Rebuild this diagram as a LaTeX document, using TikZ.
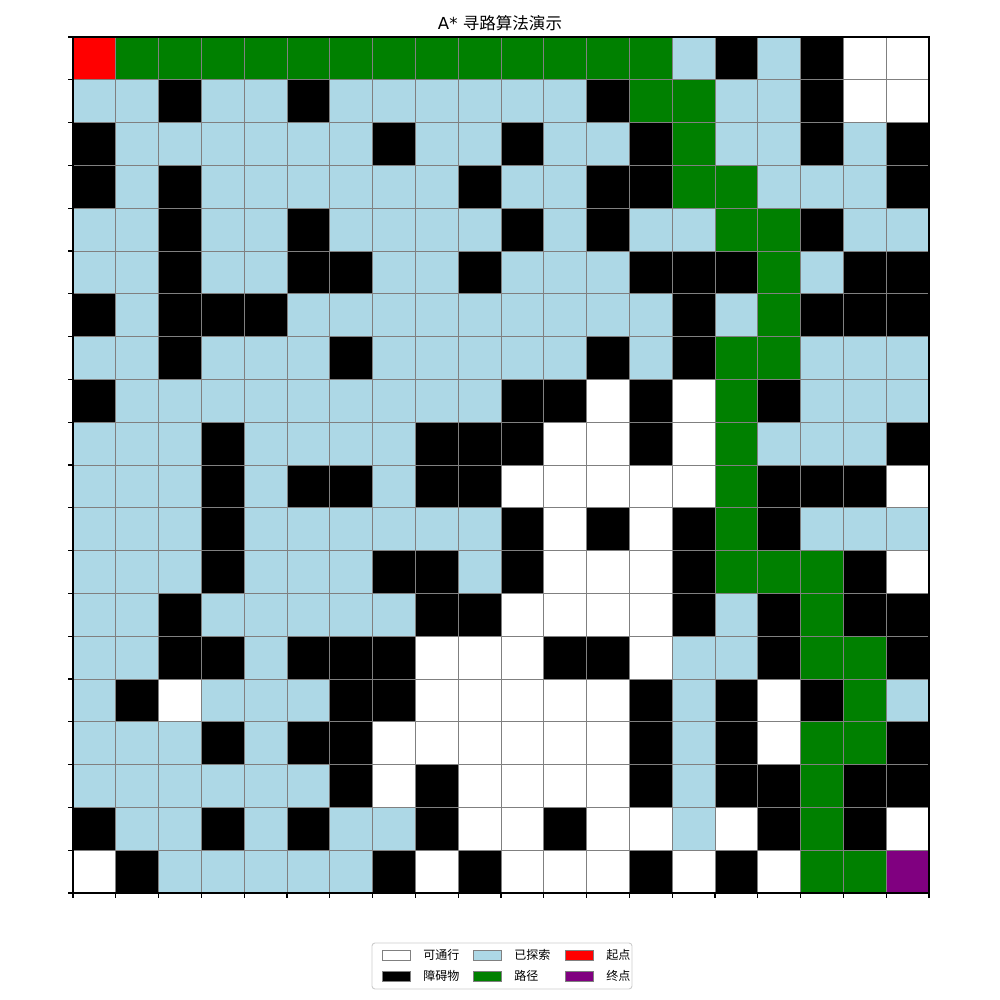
\documentclass[tikz,border=0pt]{standalone}
\usepackage{fontspec}
\setmainfont{DejaVu Sans}
\newfontfamily\cjk{Noto Sans CJK SC}
\usetikzlibrary{positioning}

\definecolor{cellW}{HTML}{FFFFFF}
\definecolor{cellB}{HTML}{000000}
\definecolor{cellL}{HTML}{ADD8E6}
\definecolor{cellG}{HTML}{008000}
\definecolor{cellR}{HTML}{FF0000}
\definecolor{cellP}{HTML}{800080}

\begin{document}
\begin{tikzpicture}[line width=0.6pt,
    patch/.style={draw=gray, minimum width=0.65cm, minimum height=0.234cm, inner sep=0pt},
    lbl/.style={font=\cjk\fontsize{8}{10}\selectfont, anchor=west, inner sep=0pt}]
        \useasboundingbox (-1.7056,-2.5) rectangle (21.659,20.8645);

        % Grid cells, top row first
        \foreach \line [count=\r from 0] in {
            {R,G,G,G,G,G,G,G,G,G,G,G,G,G,L,B,L,B,W,W},
            {L,L,B,L,L,B,L,L,L,L,L,L,B,G,G,L,L,B,W,W},
            {B,L,L,L,L,L,L,B,L,L,B,L,L,B,G,L,L,B,L,B},
            {B,L,B,L,L,L,L,L,L,B,L,L,B,B,G,G,L,L,L,B},
            {L,L,B,L,L,B,L,L,L,L,B,L,B,L,L,G,G,B,L,L},
            {L,L,B,L,L,B,B,L,L,B,L,L,L,B,B,B,G,L,B,B},
            {B,L,B,B,B,L,L,L,L,L,L,L,L,L,B,L,G,B,B,B},
            {L,L,B,L,L,L,B,L,L,L,L,L,B,L,B,G,G,L,L,L},
            {B,L,L,L,L,L,L,L,L,L,B,B,W,B,W,G,B,L,L,L},
            {L,L,L,B,L,L,L,L,B,B,B,W,W,B,W,G,L,L,L,B},
            {L,L,L,B,L,B,B,L,B,B,W,W,W,W,W,G,B,B,B,W},
            {L,L,L,B,L,L,L,L,L,L,B,W,B,W,B,G,B,L,L,L},
            {L,L,L,B,L,L,L,B,B,L,B,W,W,W,B,G,G,G,B,W},
            {L,L,B,L,L,L,L,L,B,B,W,W,W,W,B,L,B,G,B,B},
            {L,L,B,B,L,B,B,B,W,W,W,B,B,W,L,L,B,G,G,B},
            {L,B,W,L,L,L,B,B,W,W,W,W,W,B,L,B,W,B,G,L},
            {L,L,L,B,L,B,B,W,W,W,W,W,W,B,L,B,W,G,G,B},
            {L,L,L,L,L,L,B,W,B,W,W,W,W,B,L,B,B,G,B,B},
            {B,L,L,B,L,B,L,L,B,W,W,B,W,W,L,W,B,G,B,W},
            {W,B,L,L,L,L,L,B,W,B,W,W,W,B,W,B,W,G,G,P}}{
            \foreach \c [count=\col from 0] in \line {
                \filldraw[fill=cell\c, draw=gray] (\col,19-\r) rectangle ++(1,1);
            }
        }

        % Axes frame and ticks
        \draw[line width=0.75pt] (0,0) rectangle (20,20);
        \foreach \k in {0,...,20} {
            \draw[line width=0.75pt] (\k,0) -- ++(0,-0.115);
            \draw[line width=0.75pt] (0,\k) -- ++(-0.115,0);
        }

        % Title
        \node[anchor=base, font=\fontsize{11}{13}\selectfont] (title) at (9.977,20.164) {A* {\cjk 寻路算法演示}};

        % Legend
        \draw[draw=black!20, fill=white, rounded corners=2pt] (6.986,-1.168) rectangle (13.061,-2.243);
        \node[patch, fill=cellW] (pW) at (7.56,-1.449) {};
        \node[lbl, right=0.28 of pW] (tW) {可通行};
        \node[patch, fill=cellB] (pB) at (7.56,-1.939) {};
        \node[lbl, right=0.28 of pB] (tB) {障碍物};
        \node[patch, fill=cellL] (pL) at (9.685,-1.449) {};
        \node[lbl, right=0.28 of pL] (tL) {已探索};
        \node[patch, fill=cellG] (pG) at (9.685,-1.939) {};
        \node[lbl, right=0.28 of pG] (tG) {路径};
        \node[patch, fill=cellR] (pR) at (11.834,-1.449) {};
        \node[lbl, right=0.28 of pR] (tR) {起点};
        \node[patch, fill=cellP] (pP) at (11.834,-1.939) {};
        \node[lbl, right=0.28 of pP] (tP) {终点};
    \end{tikzpicture}
\end{document}
